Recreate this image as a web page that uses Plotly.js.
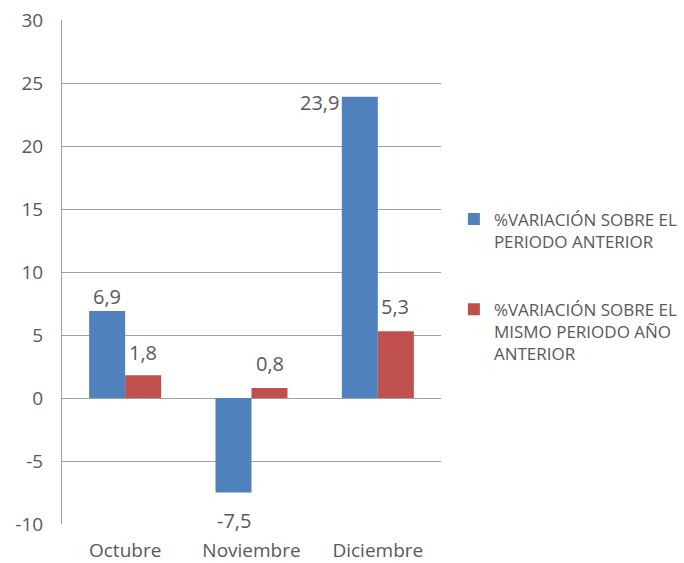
<!DOCTYPE html>
<html>
<head>
<meta charset="utf-8">
<script src="https://cdn.plot.ly/plotly-3.0.1.min.js"></script>
<style>html,body{margin:0;padding:0;background:#fff;}#chart{width:684px;height:563px;}</style>
</head>
<body>
<div id="chart"></div>
<script>
const categories = ["Octubre", "Noviembre", "Diciembre"];
const seriesNames = ["%VARIACIÓN SOBRE EL<br>PERIODO ANTERIOR", "%VARIACIÓN SOBRE EL<br>MISMO PERIODO AÑO<br>ANTERIOR"];
const variacionPeriodoAnterior = [6.9, -7.5, 23.9];
const variacionMismoPeriodo = [1.8, 0.8, 5.3];
const yTicks = [-10, -5, 0, 5, 10, 15, 20, 25, 30];

const fmt = v => v.toFixed(1).replace('.', ',');
const textColor = '#595959';
const font = 'Open Sans, sans-serif';

const traces = [
  {type: 'bar', x: categories, y: variacionPeriodoAnterior, name: seriesNames[0],
   marker: {color: '#4F81BD'}, legendgroup: 'a', hoverinfo: 'none'},
  {type: 'bar', x: categories, y: variacionMismoPeriodo, name: seriesNames[1],
   marker: {color: '#C0504D'}, legendgroup: 'b', hoverinfo: 'none'}
];

// label offsets (pixels) per series/category
const offA = [[-18, 15], [-18, -28], [-58, -6]];
const offB = [[18, 23], [18, 24], [17, 25]];
const annotations = [];
categories.forEach((c, i) => {
  annotations.push({x: c, y: variacionPeriodoAnterior[i], xref: 'x', yref: 'y',
    text: fmt(variacionPeriodoAnterior[i]), showarrow: false,
    xshift: offA[i][0], yshift: offA[i][1], font: {family: font, size: 20, color: textColor}});
  annotations.push({x: c, y: variacionMismoPeriodo[i], xref: 'x', yref: 'y',
    text: fmt(variacionMismoPeriodo[i]), showarrow: false,
    xshift: offB[i][0], yshift: offB[i][1], font: {family: font, size: 20, color: textColor}});
});

const layout = {
  width: 684, height: 563,
  margin: {l: 62, r: 243, t: 20, b: 39, autoexpand: false},
  paper_bgcolor: '#fff', plot_bgcolor: '#fff',
  font: {family: font, color: textColor, size: 18},
  barmode: 'group', bargap: 0.43, bargroupgap: 0,
  showlegend: true,
  legend: {x: 1.034, y: 0.64, xanchor: 'left', yanchor: 'top', valign: 'top',
    font: {family: font, size: 17, color: textColor}, tracegroupgap: 43,
    itemwidth: 30, bgcolor: 'rgba(0,0,0,0)'},
  xaxis: {type: 'category', showline: false, showgrid: false, zeroline: false,
    ticks: '', tickfont: {family: font, size: 19, color: textColor}, ticklabelstandoff: 13},
  yaxis: {range: [-10, 30], tickvals: yTicks, ticktext: yTicks.map(String),
    showgrid: true, gridcolor: '#A0A0A0', gridwidth: 1, zeroline: false,
    showline: true, linecolor: '#A0A0A0', linewidth: 1, ticks: '',
    tickfont: {family: font, size: 19, color: textColor}, ticklabelstandoff: 14},
  annotations: annotations
};

Plotly.newPlot('chart', traces, layout, {displayModeBar: false, staticPlot: true});
</script>
</body>
</html>
